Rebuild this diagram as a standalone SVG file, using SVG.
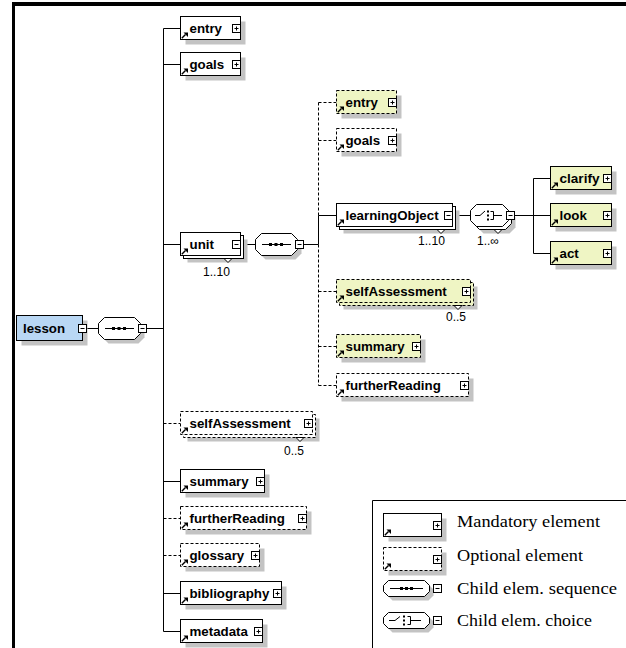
<svg xmlns="http://www.w3.org/2000/svg" xmlns:xlink="http://www.w3.org/1999/xlink" width="626" height="648" viewBox="0 0 626 648">
<style>
.bx{stroke:#000;stroke-width:1}
.w{fill:#fff}.y{fill:#eff5c4}.b{fill:#b9d7f4}
.d{stroke-dasharray:3 2}
.sh{fill:#c3c3c3;stroke:none}
.ln{stroke:#000;stroke-width:1;fill:none}
.n{font-family:"Liberation Sans",Arial,sans-serif;font-weight:bold;font-size:12px;fill:#000}
.c{font-family:"Liberation Sans",Arial,sans-serif;font-size:12px;fill:#000}
.lg{font-family:"Liberation Serif","Times New Roman",serif;font-size:16.5px;fill:#000}
.tri{fill:#fff;stroke:#000;stroke-width:1}
</style>
<defs>
<g id="plus"><rect x="0.5" y="0.5" width="8" height="8" fill="#fff" stroke="#000"/><path d="M2.5,4.5H6.5M4.5,2.5V6.5" stroke="#000"/></g>
<g id="minus"><rect x="0.5" y="0.5" width="8" height="8" fill="#fff" stroke="#000"/><path d="M2.5,4.5H6.5" stroke="#000"/></g>
<g id="arr"><path d="M0.8,7.2L4.5,3.5" stroke="#000" stroke-width="1.4"/><path d="M2.5,1.5H7V6Z" fill="#000"/></g>
<g id="seqIcon"><path d="M7,11.5H36" stroke="#000"/><rect x="14" y="10" width="3" height="3"/><rect x="19.5" y="10" width="3" height="3"/><rect x="25" y="10" width="3" height="3"/></g>
</defs>

<!-- frame -->
<rect x="12" y="2" width="614" height="4" fill="#000"/>
<rect x="12" y="2" width="3" height="646" fill="#000"/>

<!-- connectors -->
<g id="connectors" class="ln">
<path d="M86.5,328.5H98.5M146.5,328.5H163.5"/>
<path d="M163.5,28.5V631.5"/>
<path d="M163.5,28.5H180.5M163.5,64.5H180.5M163.5,244.5H180.5M163.5,481.5H180.5M163.5,593.5H180.5M163.5,631.5H180.5"/>
<path class="d" d="M163.5,423.5H180.5M163.5,518.5H180.5M163.5,555.5H180.5"/>
<path d="M240.5,244.5H255.5M303.5,244.5H318.5"/>
<path d="M318.5,215.5V244.5M318.5,215.5H336.5"/>
<path class="d" d="M318.5,102.5V215.5M318.5,244.5V385.5"/>
<path class="d" d="M318.5,102.5H336.5M318.5,140.5H336.5M318.5,291.5H336.5M318.5,346.5H336.5M318.5,385.5H336.5"/>
<path d="M452.5,215.5H470.5M514.5,215.5H533.5"/>
<path d="M533.5,178.5V253.5M533.5,178.5H550.5M533.5,215.5H550.5M533.5,253.5H550.5"/>
</g>

<!-- root -->
<g id="lesson">
<rect class="sh" x="21.5" y="320.5" width="66" height="25"/>
<rect class="bx b" x="16.5" y="315.5" width="66" height="25"/>
<text class="n" x="23" y="332.5" textLength="42" lengthAdjust="spacingAndGlyphs">lesson</text>
<use href="#minus" x="78" y="324"/>
</g>

<g id="lesson_seq" transform="translate(98,317)">
<polygon class="sh" transform="translate(4,4)" points="6.5,0.5 36.5,0.5 42.5,6.5 42.5,16.5 36.5,22.5 6.5,22.5 0.5,16.5 0.5,6.5"/>
<polygon class="bx w" points="6.5,0.5 36.5,0.5 42.5,6.5 42.5,16.5 36.5,22.5 6.5,22.5 0.5,16.5 0.5,6.5"/>
<use href="#seqIcon"/>
<use href="#minus" x="40" y="7"/>
</g>

<!-- left column -->
<g id="L_entry">
<rect class="sh" x="185.5" y="21.5" width="60" height="23"/>
<rect class="bx w" x="180.5" y="16.5" width="60" height="23"/>
<use href="#arr" x="181" y="31"/>
<text class="n" x="189.5" y="32.5" textLength="32.5" lengthAdjust="spacingAndGlyphs">entry</text>
<use href="#plus" x="232" y="24"/>
</g>
<g id="L_goals">
<rect class="sh" x="185.5" y="57.5" width="60" height="23"/>
<rect class="bx w" x="180.5" y="52.5" width="60" height="23"/>
<use href="#arr" x="181" y="67"/>
<text class="n" x="189.5" y="68.5" textLength="34.7" lengthAdjust="spacingAndGlyphs">goals</text>
<use href="#plus" x="232" y="60"/>
</g>
<g id="L_unit">
<rect class="sh" x="187.5" y="239.5" width="60" height="23"/>
<rect class="bx w" x="183.5" y="235.5" width="60" height="23"/>
<rect class="bx w" x="180.5" y="232.5" width="60" height="23"/>
<use href="#arr" x="181" y="247"/>
<text class="n" x="189.5" y="248.5" textLength="24.4" lengthAdjust="spacingAndGlyphs">unit</text>
<use href="#minus" x="232" y="240"/>
<polygon class="tri" points="224,258.5 232,258.5 228,262.5"/>
<text class="c" x="203" y="276" textLength="27" lengthAdjust="spacingAndGlyphs">1..10</text>
</g>
<g id="unit_seq" transform="translate(255,233)">
<polygon class="sh" transform="translate(4,4)" points="6.5,0.5 36.5,0.5 42.5,6.5 42.5,16.5 36.5,22.5 6.5,22.5 0.5,16.5 0.5,6.5"/>
<polygon class="bx w" points="6.5,0.5 36.5,0.5 42.5,6.5 42.5,16.5 36.5,22.5 6.5,22.5 0.5,16.5 0.5,6.5"/>
<use href="#seqIcon"/>
<use href="#minus" x="40" y="7"/>
</g>
<g id="L_selfAssessment">
<rect class="sh" x="187.5" y="418.5" width="132" height="23"/>
<rect class="bx w d" x="183.5" y="414.5" width="132" height="23"/>
<rect class="bx w d" x="180.5" y="411.5" width="132" height="23"/>
<use href="#arr" x="181" y="426"/>
<text class="n" x="189.5" y="427.5" textLength="101.3" lengthAdjust="spacingAndGlyphs">selfAssessment</text>
<use href="#plus" x="304" y="419"/>
<polygon class="tri" points="296,437.5 304,437.5 300,441.5"/>
<text class="c" x="284" y="455">0..5</text>
</g>
<g id="L_summary">
<rect class="sh" x="185.5" y="474.5" width="84" height="23"/>
<rect class="bx w" x="180.5" y="469.5" width="84" height="23"/>
<use href="#arr" x="181" y="484"/>
<text class="n" x="189.5" y="485.5" textLength="59.1" lengthAdjust="spacingAndGlyphs">summary</text>
<use href="#plus" x="256" y="477"/>
</g>
<g id="L_furtherReading">
<rect class="sh" x="185.5" y="511.5" width="126" height="23"/>
<rect class="bx w d" x="180.5" y="506.5" width="126" height="23"/>
<use href="#arr" x="181" y="521"/>
<text class="n" x="189.5" y="522.5" textLength="95.3" lengthAdjust="spacingAndGlyphs">furtherReading</text>
<use href="#plus" x="298" y="514"/>
</g>
<g id="L_glossary">
<rect class="sh" x="185.5" y="548.5" width="79" height="23"/>
<rect class="bx w d" x="180.5" y="543.5" width="79" height="23"/>
<use href="#arr" x="181" y="558"/>
<text class="n" x="189.5" y="559.5" textLength="54.7" lengthAdjust="spacingAndGlyphs">glossary</text>
<use href="#plus" x="251" y="551"/>
</g>
<g id="L_bibliography">
<rect class="sh" x="185.5" y="586.5" width="101" height="23"/>
<rect class="bx w" x="180.5" y="581.5" width="101" height="23"/>
<use href="#arr" x="181" y="596"/>
<text class="n" x="189.5" y="597.5" textLength="79.8" lengthAdjust="spacingAndGlyphs">bibliography</text>
<use href="#plus" x="273" y="589"/>
</g>
<g id="L_metadata">
<rect class="sh" x="185.5" y="624.5" width="82" height="23"/>
<rect class="bx w" x="180.5" y="619.5" width="82" height="23"/>
<use href="#arr" x="181" y="634"/>
<text class="n" x="189.5" y="635.5" textLength="58.4" lengthAdjust="spacingAndGlyphs">metadata</text>
<use href="#plus" x="254" y="627"/>
</g>

<!-- middle column -->
<g id="M_entry">
<rect class="sh" x="341.5" y="95.5" width="60" height="23"/>
<rect class="bx y d" x="336.5" y="90.5" width="60" height="23"/>
<use href="#arr" x="337" y="105"/>
<text class="n" x="345.5" y="106.5" textLength="32.5" lengthAdjust="spacingAndGlyphs">entry</text>
<use href="#plus" x="388" y="98"/>
</g>
<g id="M_goals">
<rect class="sh" x="341.5" y="133.5" width="60" height="23"/>
<rect class="bx w d" x="336.5" y="128.5" width="60" height="23"/>
<use href="#arr" x="337" y="143"/>
<text class="n" x="345.5" y="144.5" textLength="34.7" lengthAdjust="spacingAndGlyphs">goals</text>
<use href="#plus" x="388" y="136"/>
</g>
<g id="M_learningObject">
<rect class="sh" x="343.5" y="210.5" width="116" height="23"/>
<rect class="bx w" x="339.5" y="206.5" width="116" height="23"/>
<rect class="bx w" x="336.5" y="203.5" width="116" height="23"/>
<use href="#arr" x="337" y="218"/>
<text class="n" x="345.5" y="219.5" textLength="93.1" lengthAdjust="spacingAndGlyphs">learningObject</text>
<use href="#minus" x="444" y="211"/>
<polygon class="tri" points="437,229.5 445,229.5 441,233.5"/>
<text class="c" x="418" y="245" textLength="27" lengthAdjust="spacingAndGlyphs">1..10</text>
</g>
<g id="LO_choice" transform="translate(470,204)">
<polygon class="sh" transform="translate(7,7)" points="6.5,0.5 32.5,0.5 38.5,6.5 38.5,16.5 32.5,22.5 6.5,22.5 0.5,16.5 0.5,6.5"/>
<polygon class="bx w" transform="translate(3,3)" points="6.5,0.5 32.5,0.5 38.5,6.5 38.5,16.5 32.5,22.5 6.5,22.5 0.5,16.5 0.5,6.5"/>
<polygon class="bx w" points="6.5,0.5 32.5,0.5 38.5,6.5 38.5,16.5 32.5,22.5 6.5,22.5 0.5,16.5 0.5,6.5"/>
<path class="ln" d="M5,11.5H10L15,7M20.5,7.5H23.5V15.5H20.5M23.5,11.5H32"/>
<rect x="17" y="6.5" width="2" height="2"/><rect x="17" y="10.5" width="2" height="2"/><rect x="17" y="14.5" width="2" height="2"/>
<use href="#minus" x="36" y="7"/>
<polygon class="tri" points="24,25.5 32,25.5 28,29.5"/>
<text class="c" x="7" y="41">1..∞</text>
</g>
<g id="M_selfAssessment">
<rect class="sh" x="343.5" y="286.5" width="134" height="23"/>
<rect class="bx y d" x="339.5" y="282.5" width="134" height="23"/>
<rect class="bx y d" x="336.5" y="279.5" width="134" height="23"/>
<use href="#arr" x="337" y="294"/>
<text class="n" x="345.5" y="295.5" textLength="101.3" lengthAdjust="spacingAndGlyphs">selfAssessment</text>
<use href="#plus" x="462" y="287"/>
<polygon class="tri" points="454,305.5 462,305.5 458,309.5"/>
<text class="c" x="446" y="321">0..5</text>
</g>
<g id="M_summary">
<rect class="sh" x="341.5" y="339.5" width="84" height="23"/>
<rect class="bx y d" x="336.5" y="334.5" width="84" height="23"/>
<use href="#arr" x="337" y="349"/>
<text class="n" x="345.5" y="350.5" textLength="59.1" lengthAdjust="spacingAndGlyphs">summary</text>
<use href="#plus" x="412" y="342"/>
</g>
<g id="M_furtherReading">
<rect class="sh" x="341.5" y="378.5" width="132" height="23"/>
<rect class="bx w d" x="336.5" y="373.5" width="132" height="23"/>
<use href="#arr" x="337" y="388"/>
<text class="n" x="345.5" y="389.5" textLength="95.3" lengthAdjust="spacingAndGlyphs">furtherReading</text>
<use href="#plus" x="460" y="381"/>
</g>

<!-- right column -->
<g id="R_clarify">
<rect class="sh" x="555.5" y="171.5" width="61" height="23"/>
<rect class="bx y" x="550.5" y="166.5" width="61" height="23"/>
<use href="#arr" x="551" y="181"/>
<text class="n" x="559.5" y="182.5" textLength="40" lengthAdjust="spacingAndGlyphs">clarify</text>
<use href="#plus" x="603" y="174"/>
</g>
<g id="R_look">
<rect class="sh" x="555.5" y="208.5" width="61" height="23"/>
<rect class="bx y" x="550.5" y="203.5" width="61" height="23"/>
<use href="#arr" x="551" y="218"/>
<text class="n" x="559.5" y="219.5" textLength="27.3" lengthAdjust="spacingAndGlyphs">look</text>
<use href="#plus" x="603" y="211"/>
</g>
<g id="R_act">
<rect class="sh" x="555.5" y="246.5" width="61" height="23"/>
<rect class="bx y" x="550.5" y="241.5" width="61" height="23"/>
<use href="#arr" x="551" y="256"/>
<text class="n" x="559.5" y="257.5" textLength="19.2" lengthAdjust="spacingAndGlyphs">act</text>
<use href="#plus" x="603" y="249"/>
</g>

<!-- legend -->
<g id="legend">
<path class="ln" d="M372.5,648V500.5H626"/>
<rect class="sh" x="388.5" y="518.5" width="58" height="23"/>
<rect class="bx w" x="383.5" y="513.5" width="58" height="23"/>
<use href="#arr" x="384" y="528"/>
<use href="#plus" x="433" y="521"/>
<text class="lg" x="457" y="527" textLength="143" lengthAdjust="spacingAndGlyphs">Mandatory element</text>
<rect class="sh" x="388.5" y="552.5" width="58" height="23"/>
<rect class="bx w d" x="383.5" y="547.5" width="58" height="23"/>
<use href="#arr" x="384" y="562"/>
<use href="#plus" x="433" y="555"/>
<text class="lg" x="457" y="561" textLength="126" lengthAdjust="spacingAndGlyphs">Optional element</text>
<g transform="translate(383,580)">
<polygon class="sh" transform="translate(4,4)" points="5.5,0.5 41.5,0.5 46.5,5.5 46.5,11.5 41.5,16.5 5.5,16.5 0.5,11.5 0.5,5.5"/>
<polygon class="bx w" points="5.5,0.5 41.5,0.5 46.5,5.5 46.5,11.5 41.5,16.5 5.5,16.5 0.5,11.5 0.5,5.5"/>
<path class="ln" d="M7,8.5H40"/>
<rect x="17" y="7" width="3" height="3"/><rect x="22" y="7" width="3" height="3"/><rect x="27" y="7" width="3" height="3"/>
</g>
<use href="#minus" x="433" y="584"/>
<text class="lg" x="457" y="594" textLength="160" lengthAdjust="spacingAndGlyphs">Child elem. sequence</text>
<g transform="translate(383,612)">
<polygon class="sh" transform="translate(4,4)" points="5.5,0.5 41.5,0.5 46.5,5.5 46.5,11.5 41.5,16.5 5.5,16.5 0.5,11.5 0.5,5.5"/>
<polygon class="bx w" points="5.5,0.5 41.5,0.5 46.5,5.5 46.5,11.5 41.5,16.5 5.5,16.5 0.5,11.5 0.5,5.5"/>
<path class="ln" d="M6,8.5H12L17,4.5M24.5,4.5H27.5V12.5H24.5M27.5,8.5H38"/>
<rect x="20" y="3.5" width="2" height="2"/><rect x="20" y="7.5" width="2" height="2"/><rect x="20" y="11.5" width="2" height="2"/>
</g>
<use href="#minus" x="433" y="616"/>
<text class="lg" x="457" y="626" textLength="135" lengthAdjust="spacingAndGlyphs">Child elem. choice</text>
</g>
</svg>
